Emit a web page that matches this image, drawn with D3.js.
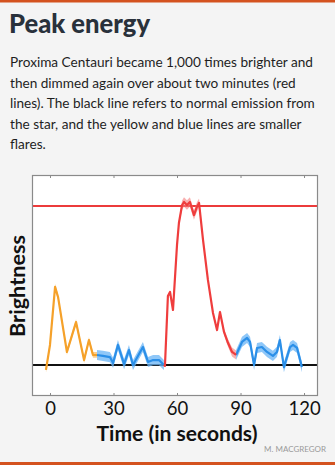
<!DOCTYPE html>
<html>
<head>
<meta charset="utf-8">
<script src="https://cdn.jsdelivr.net/npm/d3@7/dist/d3.min.js"></script>
<style>
  html, body { margin: 0; padding: 0; background: #f4f4f4; }
  svg { display: block; }
</style>
</head>
<body>
<svg id="chart" width="335" height="465"></svg>
<script>
// Light curve of the Proxima Centauri flare: time in seconds, brightness above normal emission
// (0 = quiescent star, 1000 = flare peak).
const tickValues = [0, 30, 60, 90, 120];
const peakLevel = 1000;
const baseLevel = 0;

// Smaller flare before the main event (yellow)
const yellowTime = [-1.9, 0, 2.4, 3.8, 8.0, 12.3, 16.1, 18.4, 20.3, 22.2];
const yellowFlux = [-31, 126, 491, 428, 82, 270, 31, 157, 63, 63];
const yellowErr = 18;

// Low-level variability before the main flare (blue)
const blueATime = [22.2, 25.0, 28.3, 29.8, 32.1, 35.0, 37.3, 39.2, 43.9, 46.3, 48.7, 51.5, 53.8];
const blueAFlux = [63, 57, 50, 13, 126, 6, 94, 0, 113, 19, 31, 31, 0];

// Main flare (red)
const redTime = [53.8, 54.3, 55.7, 56.7, 58.1, 60.0, 60.9, 62.4, 63.3, 64.7, 66.1, 68.0, 69.4, 70.4, 72.3, 74.6, 77.0, 78.9, 80.3, 82.2, 84.1, 86.0, 87.9];
const redFlux = [0, -6, 434, 459, 346, 755, 893, 1006, 1025, 1006, 1025, 943, 994, 1019, 786, 535, 327, 220, 333, 208, 138, 82, 63];
const redErr = [8, 8, 10, 10, 10, 14, 18, 28, 30, 30, 30, 30, 30, 28, 18, 14, 12, 12, 14, 20, 24, 28, 28];

// Low-level variability after the main flare (blue)
const blueBTime = [87.9, 90.7, 93.1, 94.5, 96.4, 97.8, 100.1, 102.5, 105.3, 107.2, 108.6, 110.5, 113.4, 114.8, 116.7, 119.0];
const blueBFlux = [63, 145, 170, 145, 0, 107, 113, 82, 57, 82, 157, -13, 113, 126, 107, -13];
const blueErr = 32;

const svg = d3.select("#chart");
const W = 335, H = 465;
const plot = { left: 32, right: 318, top: 175, bottom: 396 };
const FONT = "Lato, 'Open Sans', sans-serif";

// Shrink or grow a text's font size so that it spans the given width
function fitWidth(sel, width) {
  const node = sel.node();
  const fs = parseFloat(sel.attr("font-size"));
  const w = node.getComputedTextLength();
  if (w > 0) sel.attr("font-size", (fs * width / w).toFixed(2));
  return sel;
}

// Orange rules at top and bottom of the card
svg.append("rect").attr("x", 0).attr("y", 0).attr("width", W).attr("height", 2.5).attr("fill", "#d4521f");
svg.append("rect").attr("x", 0).attr("y", 462).attr("width", W).attr("height", 3).attr("fill", "#d4521f");

// Title and description
const title = svg.append("text")
  .attr("x", 9).attr("y", 33)
  .attr("font-family", FONT)
  .attr("font-weight", 900).attr("font-size", 27)
  .attr("fill", "#29313b")
  .text("Peak energy");
fitWidth(title, 141);

const desc = [
  "Proxima Centauri became 1,000 times brighter and",
  "then dimmed again over about two minutes (red",
  "lines). The black line refers to normal emission from",
  "the star, and the yellow and blue lines are smaller",
  "flares."
];
const descText = svg.append("g").selectAll("text").data(desc).join("text")
  .attr("x", 10).attr("y", (d, i) => 67 + i * 20.6)
  .attr("font-family", FONT)
  .attr("font-size", 14)
  .attr("fill", "#1e1e1e")
  .text(d => d);
// Size the paragraph so its first line spans the card's text column
{
  const first = descText.filter((d, i) => i === 0);
  const w = first.node().getComputedTextLength();
  const fs = (14 * 303 / w).toFixed(2);
  descText.attr("font-size", fs);
}

// Scales
const x = d3.scaleLinear().domain([-8.5, 126.6]).range([plot.left, plot.right]);
const y = d3.scaleLinear().domain([-195, 1195]).range([plot.bottom, plot.top]);

// Plot background
svg.append("rect")
  .attr("x", plot.left).attr("y", plot.top)
  .attr("width", plot.right - plot.left).attr("height", plot.bottom - plot.top)
  .attr("fill", "#ffffff");

svg.append("clipPath").attr("id", "plotclip").append("rect")
  .attr("x", plot.left).attr("y", plot.top)
  .attr("width", plot.right - plot.left).attr("height", plot.bottom - plot.top);

const g = svg.append("g").attr("clip-path", "url(#plotclip)");

// Peak level (red)
g.append("line")
  .attr("x1", plot.left).attr("x2", plot.right)
  .attr("y1", y(peakLevel)).attr("y2", y(peakLevel))
  .attr("stroke", "#ec3b3b").attr("stroke-width", 2);

function series(times, flux, err, bandColor, lineColor, lineWidth) {
  const pts = times.map((t, i) => ({ t, v: flux[i], e: Array.isArray(err) ? err[i] : err }));
  const area = d3.area()
    .x(d => x(d.t))
    .y0(d => y(d.v - d.e))
    .y1(d => y(d.v + d.e));
  const line = d3.line().x(d => x(d.t)).y(d => y(d.v));
  g.append("path").datum(pts).attr("d", area)
    .attr("fill", bandColor).attr("stroke", "none");
  g.append("path").datum(pts).attr("d", line)
    .attr("fill", "none").attr("stroke", lineColor)
    .attr("stroke-width", lineWidth).attr("stroke-linejoin", "round");
}

// Normal emission (black)
g.append("line")
  .attr("x1", plot.left).attr("x2", plot.right)
  .attr("y1", y(baseLevel)).attr("y2", y(baseLevel))
  .attr("stroke", "#111111").attr("stroke-width", 2);

series(yellowTime, yellowFlux, yellowErr, "rgba(248,175,70,0.6)", "#f5a12a", 2.2);
series(blueATime, blueAFlux, blueErr, "rgba(105,180,245,0.75)", "#2b8fe8", 2.2);
series(blueBTime, blueBFlux, blueErr, "rgba(105,180,245,0.75)", "#2b8fe8", 2.2);
series(redTime, redFlux, redErr, "rgba(245,125,125,0.6)", "#ef3d3d", 2.2);

// Frame
svg.append("rect")
  .attr("x", plot.left + 0.5).attr("y", plot.top + 0.5)
  .attr("width", plot.right - plot.left - 1).attr("height", plot.bottom - plot.top - 1)
  .attr("fill", "none").attr("stroke", "#8a8a8a").attr("stroke-width", 1.2);

// Axes: inward ticks on top and bottom, labels under the bottom edge
const bottomAxis = d3.axisBottom(x).tickValues(tickValues).tickSize(-3).tickPadding(6);
const ax = svg.append("g").attr("transform", `translate(0,${plot.bottom})`).call(bottomAxis);
ax.select(".domain").remove();
ax.selectAll(".tick line").attr("stroke", "#8a8a8a");
ax.selectAll(".tick text")
  .attr("font-family", FONT)
  .attr("font-size", 18.5).attr("fill", "#111");

const topAxis = d3.axisTop(x).tickValues(tickValues).tickSize(-3).tickFormat("");
const tx = svg.append("g").attr("transform", `translate(0,${plot.top})`).call(topAxis);
tx.select(".domain").remove();
tx.selectAll(".tick line").attr("stroke", "#8a8a8a");

// Axis titles
const xTitle = svg.append("text")
  .attr("x", 177).attr("y", 441)
  .attr("text-anchor", "middle")
  .attr("font-family", FONT)
  .attr("font-weight", 700).attr("font-size", 20)
  .attr("fill", "#111")
  .text("Time (in seconds)");
fitWidth(xTitle, 161);

const yTitle = svg.append("text")
  .attr("transform", `translate(24.5,${286}) rotate(-90)`)
  .attr("text-anchor", "middle")
  .attr("font-family", FONT)
  .attr("font-weight", 700).attr("font-size", 20)
  .attr("fill", "#111")
  .text("Brightness");
fitWidth(yTitle, 102);

// Credit
svg.append("text")
  .attr("x", 326).attr("y", 452)
  .attr("text-anchor", "end")
  .attr("font-family", FONT)
  .attr("font-size", 8)
  .attr("fill", "#9a9a9a")
  .text("M. MACGREGOR");
</script>
</body>
</html>
